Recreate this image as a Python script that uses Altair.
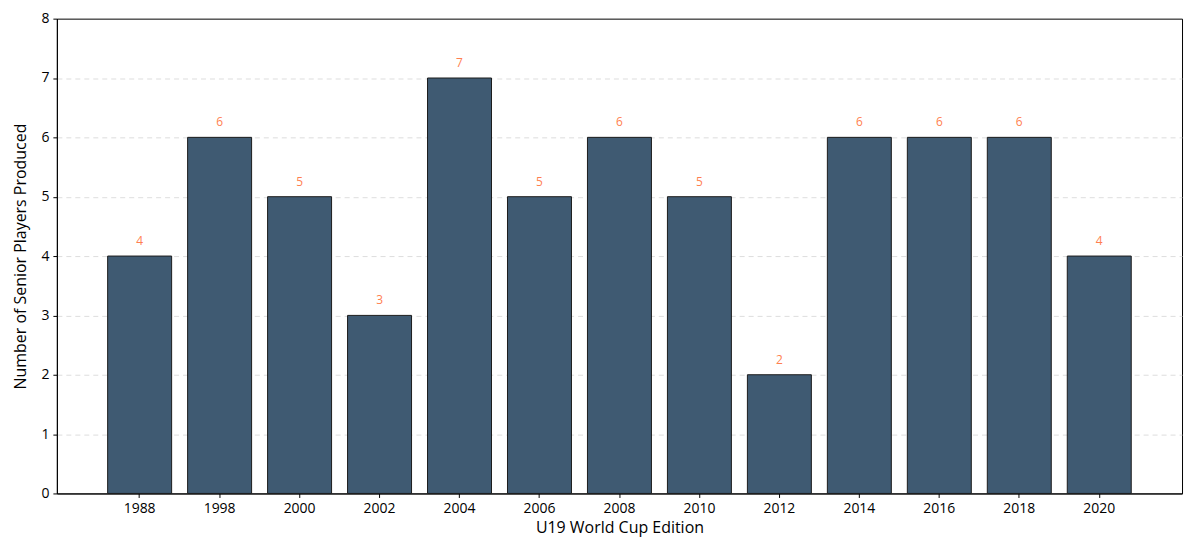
import altair as alt
import pandas as pd

editions = ["1988", "1998", "2000", "2002", "2004", "2006", "2008", "2010",
            "2012", "2014", "2016", "2018", "2020"]
players = [4, 6, 5, 3, 7, 5, 6, 5, 2, 6, 6, 6, 4]

df = pd.DataFrame({"edition": editions, "players": players})

FONT = "Open Sans"

x = alt.X("edition:N", sort=editions, title="U19 World Cup Edition",
          scale=alt.Scale(paddingInner=0.2, paddingOuter=0.635),
          axis=alt.Axis(labelAngle=0, grid=False, tickColor="black",
                        domainColor="black", labelColor="black",
                        titleColor="black", labelFontSize=14,
                        titleFontSize=16, titleFontWeight="normal",
                        labelPadding=4, tickSize=4, titlePadding=4))
y = alt.Y("players:Q", title="Number of Senior Players Produced",
          scale=alt.Scale(domain=[0, 8], nice=False),
          axis=alt.Axis(values=list(range(0, 9)), format="d", grid=True,
                        gridDash=[5, 4],
                        gridColor={"condition": {"test": "datum.value === 8 || datum.value === 0",
                                                 "value": "transparent"},
                                   "value": "#d4d4d4"},
                        gridWidth=0.8,
                        tickColor="black", domainColor="black",
                        labelColor="black", titleColor="black",
                        labelFontSize=14, titleFontSize=16,
                        titleFontWeight="normal", tickSize=4,
                        labelPadding=4, titlePadding=12))

bars = alt.Chart(df).mark_bar(color="#3f5a72", stroke="#1c1c1c",
                              strokeWidth=1).encode(x=x, y=y)

labels = alt.Chart(df).mark_text(color="#ff7f50", fontSize=12, dy=-15,
                                 baseline="middle", font=FONT).encode(
    x=alt.X("edition:N", sort=editions),
    y=alt.Y("players:Q"),
    text="players:Q")

chart = (bars + labels).properties(
    width=1128, height=476,
    autosize=alt.AutoSizeParams(type="none"),
    padding={"left": 49, "top": 10, "right": 10, "bottom": 50},
).configure(font=FONT).configure_view(stroke="black", strokeWidth=1)

chart.save("out.html", embed_options={"renderer": "svg", "actions": False})
